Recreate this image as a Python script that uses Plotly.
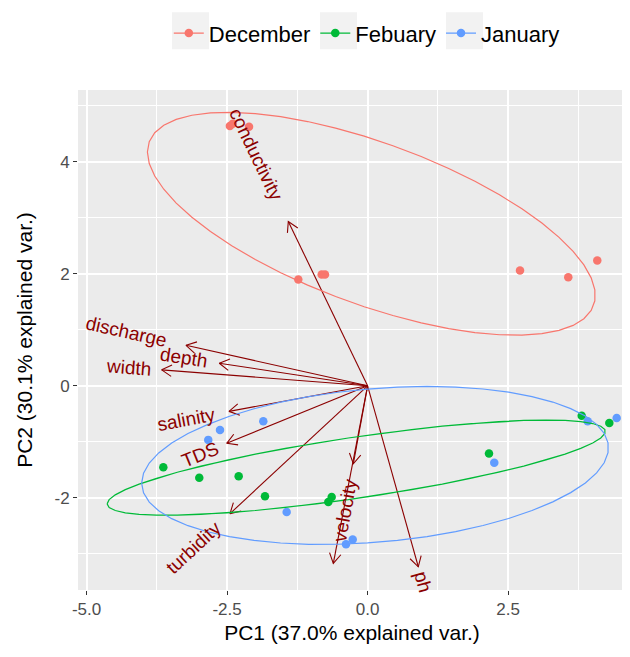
import numpy as np
import plotly.graph_objects as go

# ---------------- data ----------------
groups = ["December", "Febuary", "January"]
colors = {"December": "#F8766D", "Febuary": "#00BA38", "January": "#619CFF"}

dec_pc1 = [-2.45, -2.40, -2.11, -1.233, -0.817, -0.758, 2.712, 3.571, 4.087]
dec_pc2 = [4.64, 4.68, 4.63, 1.899, 1.988, 1.988, 2.059, 1.940, 2.237]

feb_pc1 = [-3.635, -2.995, -2.294, -1.826, -0.699, -0.639, 2.160, 3.810, 4.301]
feb_pc2 = [-1.454, -1.642, -1.614, -1.975, -2.077, -1.988, -1.210, -0.534, -0.664]

jan_pc1 = [-2.626, -2.835, -1.856, -1.440, -0.384, -0.265, 2.254, 3.916, 4.432]
jan_pc2 = [-0.788, -0.966, -0.635, -2.254, -2.829, -2.746, -1.376, -0.635, -0.575]

var_names = ["conductivity", "discharge", "depth", "width", "salinity",
             "TDS", "turbidity", "velocity", "temperature", "ph"]
var_pc1 = [-1.411, -3.231, -2.639, -3.664, -2.466, -2.507, -2.448, -0.254, -0.610, 0.902]
var_pc2 = [2.936, 0.724, 0.404, 0.285, -0.457, -1.027, -2.283, -1.393, -3.173, -3.233]
# labels that fall outside the panel in the reference (clipped there)
clipped_labels = ["temperature"]

x_ticks = [-5.0, -2.5, 0.0, 2.5]
x_ticktext = ["-5.0", "-2.5", "0.0", "2.5"]
x_minor = [-3.75, -1.25, 1.25, 3.75]
y_ticks = [-2, 0, 2, 4]
y_ticktext = ["-2", "0", "2", "4"]
y_minor = [-3, -1, 1, 3, 5]

x_title = "PC1 (37.0% explained var.)"
y_title = "PC2 (30.1% explained var.)"

ellipse_prob = 0.68

# ---------------- layout constants ----------------
# (page body adds an 8px offset, so the figure is 8px smaller than the window)
W, H = 622, 641
ML, MR, MT, MB = 70, 4, 80, 59
PW, PH = W - ML - MR, H - MT - MB
XR = [-5.153, 4.598]
YR = [-3.648, 5.285]
PX = PW / (XR[1] - XR[0])  # pixels per data unit
LABEL_SIZE = 19
DARKRED = "#8B0000"
FONT = "Liberation Sans"

# Arial-like advance widths (em)
CW = {'a': .556, 'b': .556, 'c': .5, 'd': .556, 'e': .556, 'f': .278, 'g': .556, 'h': .556,
      'i': .222, 'j': .222, 'k': .5, 'l': .222, 'm': .833, 'n': .556, 'o': .556, 'p': .556,
      'q': .556, 'r': .333, 's': .5, 't': .278, 'u': .556, 'v': .5, 'w': .722, 'x': .5,
      'y': .5, 'z': .5, 'T': .611, 'D': .722, 'S': .667, 'H': .722}


def text_w(s, size):
    return sum(CW.get(c, .556) for c in s) * size


fig = go.Figure()

# ---------------- arrows (drawn first, as in ggbiplot) ----------------
head_len = 11.5 / PX
head_ang = np.deg2rad(30)
ax_x, ax_y = [], []
for vx, vy in zip(var_pc1, var_pc2):
    ang = np.arctan2(vy, vx)
    ax_x += [0, vx, None]
    ax_y += [0, vy, None]
    a1 = ang + np.pi + head_ang
    a2 = ang + np.pi - head_ang
    ax_x += [vx + head_len * np.cos(a1), vx, vx + head_len * np.cos(a2), None]
    ax_y += [vy + head_len * np.sin(a1), vy, vy + head_len * np.sin(a2), None]
fig.add_trace(go.Scatter(x=ax_x, y=ax_y, mode="lines",
                         line=dict(color=DARKRED, width=1.1),
                         hoverinfo="skip", showlegend=False))

# ---------------- points ----------------
data = {
    "December": (dec_pc1, dec_pc2),
    "Febuary": (feb_pc1, feb_pc2),
    "January": (jan_pc1, jan_pc2),
}
for g in groups:
    xs, ys = data[g]
    fig.add_trace(go.Scatter(x=xs, y=ys, mode="markers",
                             marker=dict(color=colors[g], size=8.5),
                             showlegend=False, hoverinfo="skip"))

# ---------------- ellipses (ggbiplot method) ----------------
theta = np.concatenate([np.linspace(-np.pi, np.pi, 50), np.linspace(np.pi, -np.pi, 50)])
circle = np.column_stack([np.cos(theta), np.sin(theta)])
ed = np.sqrt(-2 * np.log(1 - ellipse_prob))  # sqrt(qchisq(p, 2))
for g in groups:
    xs, ys = data[g]
    pts = np.column_stack([xs, ys])
    sigma = np.cov(pts.T)
    mu = pts.mean(axis=0)
    R = np.linalg.cholesky(sigma).T
    ell = circle @ R * ed + mu
    fig.add_trace(go.Scatter(x=ell[:, 0], y=ell[:, 1], mode="lines",
                             line=dict(color=colors[g], width=1.2),
                             showlegend=False, hoverinfo="skip"))

# legend entries
for g in groups:
    fig.add_trace(go.Scatter(x=[None], y=[None], mode="lines+markers", name=g,
                             line=dict(color=colors[g], width=1.2),
                             marker=dict(color=colors[g], size=8.5)))

# ---------------- variable labels ----------------
annotations = []
for name, vx, vy in zip(var_names, var_pc1, var_pc2):
    if name in clipped_labels:
        continue
    L = np.hypot(vx, vy)
    ux, uy = vx / L, vy / L
    w = text_w(name, LABEL_SIZE) / PX
    cx = vx + ux * 0.75 * w
    cy = vy + uy * 0.75 * w
    ang = np.degrees(np.arctan(vy / vx))
    annotations.append(dict(x=cx, y=cy, xref="x", yref="y", text=name,
                            showarrow=False, textangle=-ang,
                            xanchor="center", yanchor="middle",
                            font=dict(family=FONT, size=LABEL_SIZE, color=DARKRED)))

# grey legend-key backgrounds (figure pixel positions of the keys)
key_left_px = [164, 312, 438]
key_size_px = 37
key_top_px = 2
shapes = []
for kx in key_left_px:
    shapes.append(dict(type="rect", xref="paper", yref="paper", layer="below",
                       x0=(kx - ML) / PW, x1=(kx + key_size_px - ML) / PW,
                       y0=1 + (MT - key_top_px - key_size_px) / PH,
                       y1=1 + (MT - key_top_px) / PH,
                       fillcolor="#F2F2F2", line=dict(width=0)))

fig.update_layout(
    width=W, height=H,
    margin=dict(l=ML, r=MR, t=MT, b=MB),
    paper_bgcolor="white", plot_bgcolor="#EBEBEB",
    font=dict(family=FONT),
    showlegend=True,
    legend=dict(orientation="h", x=0.527, xanchor="center",
                y=1 + 57 / PH, yanchor="middle",
                font=dict(family=FONT, size=22, color="black"),
                bgcolor="rgba(0,0,0,0)"),
    annotations=annotations,
    shapes=shapes,
)
axis_common = dict(showline=False, zeroline=False, ticks="outside", ticklen=4,
                   tickwidth=1.1, tickcolor="#333333", gridcolor="white", gridwidth=1.6,
                   tickfont=dict(family=FONT, size=17, color="#4D4D4D"))
fig.update_xaxes(range=XR, tickvals=x_ticks, ticktext=x_ticktext,
                 minor=dict(tickvals=x_minor, showgrid=True, gridcolor="white", gridwidth=0.8, ticks=""),
                 title=dict(text=x_title, font=dict(family=FONT, size=21, color="black"), standoff=6),
                 **axis_common)
fig.update_yaxes(range=YR, tickvals=y_ticks, ticktext=y_ticktext,
                 minor=dict(tickvals=y_minor, showgrid=True, gridcolor="white", gridwidth=0.8, ticks=""),
                 title=dict(text=y_title, font=dict(family=FONT, size=21, color="black"), standoff=16),
                 **axis_common)

fig.write_html("out.html")
